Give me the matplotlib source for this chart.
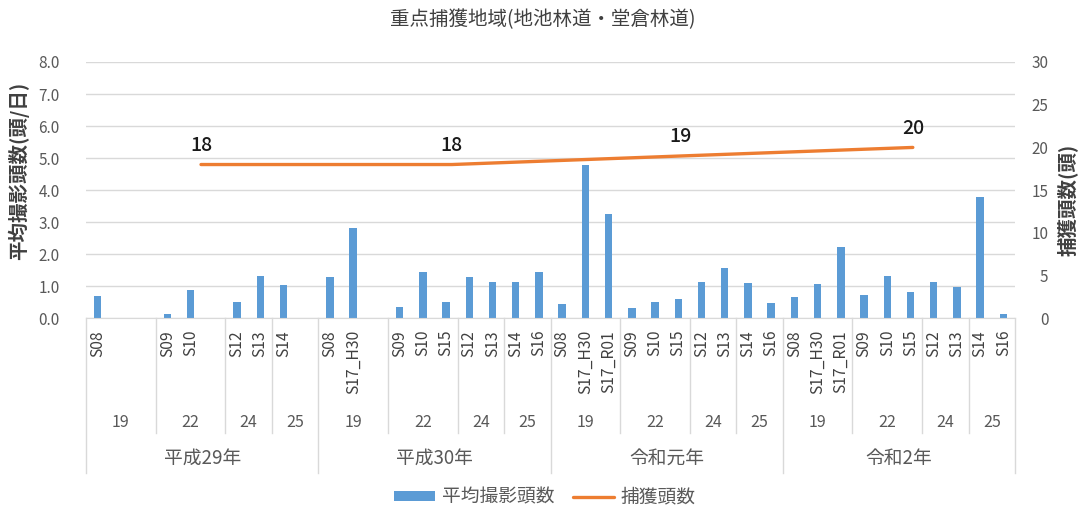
import matplotlib.pyplot as plt
import numpy as np

plt.rcParams['font.family'] = ['Noto Sans CJK JP', 'DejaVu Sans']

title = '重点捕獲地域(地池林道・堂倉林道)'
years = ['平成29年', '平成30年', '令和元年', '令和2年']
group_names = ['19', '22', '24', '25']
group_sizes = [3, 3, 2, 2]

# site labels per year ('' = empty slot)
sites = [
    ['S08', '', '', 'S09', 'S10', '', 'S12', 'S13', 'S14', ''],
    ['S08', 'S17_H30', '', 'S09', 'S10', 'S15', 'S12', 'S13', 'S14', 'S16'],
    ['S08', 'S17_H30', 'S17_R01', 'S09', 'S10', 'S15', 'S12', 'S13', 'S14', 'S16'],
    ['S08', 'S17_H30', 'S17_R01', 'S09', 'S10', 'S15', 'S12', 'S13', 'S14', 'S16'],
]
# average photographed animals per day
avg_photo = [
    [0.69, None, None, 0.13, 0.90, None, 0.52, 1.33, 1.04, None],
    [1.30, 2.82, None, 0.34, 1.44, 0.52, 1.30, 1.12, 1.12, 1.44],
    [0.44, 4.80, 3.27, 0.31, 0.52, 0.60, 1.12, 1.58, 1.09, 0.47],
    [0.66, 1.06, 2.23, 0.73, 1.33, 0.81, 1.14, 0.97, 3.79, 0.13],
]
# number captured per year
capture = [18, 18, 19, 20]
capture_shift = [-0.05, 0.75, 0.6, 0.6]

BLUE = '#5B9BD5'
ORANGE = '#ED7D31'
GRID = '#D9D9D9'
TXT = '#595959'


def main():
    n_per_year = len(sites[0])
    flat_sites = [s for row in sites for s in row]
    flat_vals = [v for row in avg_photo for v in row]
    xs = [i for i, v in enumerate(flat_vals) if v is not None]
    hs = [v for v in flat_vals if v is not None]

    fig = plt.figure(figsize=(10.85, 5.11), dpi=100)
    ax = fig.add_axes([0.0793, 0.377, 0.8562, 0.5017])

    ax.bar(xs, hs, width=0.32, color=BLUE, label='平均撮影頭数', zorder=2)
    ax.set_xlim(-0.5, len(flat_sites) - 0.5)
    ax.set_ylim(0, 8)
    ax.set_yticks(np.arange(0, 9, 1))
    ax.set_yticklabels([f'{v:.1f}' for v in np.arange(0, 9, 1)])
    ax.set_xticks([])
    ax.grid(axis='y', color=GRID, lw=1, zorder=0)
    for s in ['top', 'left', 'right']:
        ax.spines[s].set_visible(False)
    ax.spines['bottom'].set_color(GRID)
    ax.tick_params(axis='y', length=0, pad=19, colors=TXT, labelsize=11)

    # secondary axis with capture counts
    ax2 = ax.twinx()
    year_centers = [y * n_per_year + (n_per_year - 1) / 2 for y in range(len(years))]
    cap_x = [c + d for c, d in zip(year_centers, capture_shift)]
    ax2.plot(cap_x, capture, color=ORANGE, lw=2.4, label='捕獲頭数', solid_capstyle='round')
    for x, v in zip(cap_x, capture):
        ax2.annotate(str(v), (x, v), xytext=(0, 7), textcoords='offset points',
                     ha='center', va='bottom', fontsize=14, fontweight='medium',
                     color='#1a1a1a')
    ax2.set_ylim(0, 30)
    ax2.set_yticks(range(0, 31, 5))
    for s in ax2.spines.values():
        s.set_visible(False)
    ax2.tick_params(axis='y', length=0, pad=24, colors=TXT, labelsize=11)
    for t in ax2.get_yticklabels():
        t.set_ha('right')

    # multi-level category axis
    tr = ax.get_xaxis_transform()
    for i, lab in enumerate(flat_sites):
        if lab:
            ax.text(i, -0.045, lab, rotation=90, ha='center', va='top',
                    transform=tr, fontsize=11.3, color='#404040')
    for y, yname in enumerate(years):
        start = y * n_per_year
        pos = start
        for k, (gname, size) in enumerate(zip(group_names, group_sizes)):
            ax.text(pos + (size - 1) / 2, -0.405, gname, ha='center', va='center',
                    transform=tr, fontsize=11.5, color=TXT)
            if k > 0:
                ax.plot([pos - 0.5, pos - 0.5], [0, -0.447], transform=tr,
                        clip_on=False, color=GRID, lw=1)
            pos += size
        ax.text(start + (n_per_year - 1) / 2, -0.545, yname, ha='center', va='center',
                transform=tr, fontsize=13.5, color=TXT)
    for b in range(len(years) + 1):
        xb = b * n_per_year - 0.5
        ax.plot([xb, xb], [0, -0.603], transform=tr, clip_on=False, color=GRID, lw=1)

    fig.text(0.5, 0.962, title, ha='center', va='center', fontsize=14, color='#404040')
    fig.text(0.017, 0.665, '平均撮影頭数(頭/日)', rotation=90, ha='center', va='center',
             fontsize=14, fontweight='bold', color='#404040')
    fig.text(0.984, 0.609, '捕獲頭数(頭)', rotation=90, ha='center', va='center',
             fontsize=14, fontweight='bold', color='#404040')

    h1, l1 = ax.get_legend_handles_labels()
    h2, l2 = ax2.get_legend_handles_labels()
    fig.legend(h1 + h2, l1 + l2, loc='center', bbox_to_anchor=(0.502, 0.027), ncol=2,
               frameon=False, fontsize=13.5, handlelength=2.2, handleheight=0.45,
               columnspacing=1.0, handletextpad=0.35, labelcolor=TXT)

    fig.savefig('out.png', dpi=100)


if __name__ == '__main__':
    main()
